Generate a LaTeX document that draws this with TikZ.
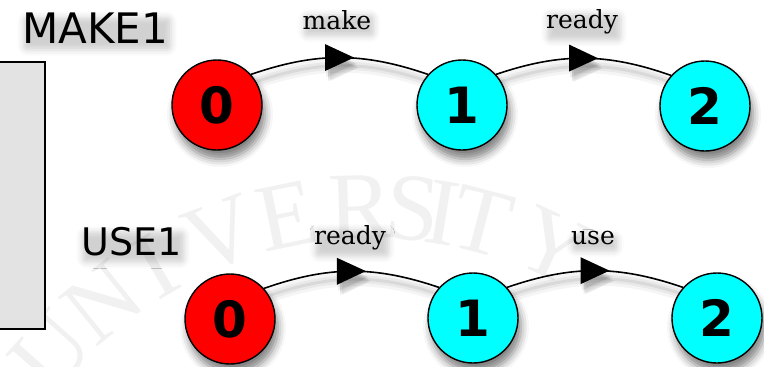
\documentclass[tikz,border=0pt]{standalone}
\usepackage{fontspec}
\setmainfont{Liberation Serif}
\newfontfamily\headfont{DejaVu Sans}
\newfontfamily\labelfont{DejaVu Serif}
\newfontfamily\markfont{Liberation Serif}
\usetikzlibrary{shadows.blur,decorations.markings}

\definecolor{statered}{RGB}{255,0,0}
\definecolor{statecyan}{RGB}{0,255,255}
\definecolor{panelgrey}{RGB}{227,227,227}
\definecolor{sealgrey}{RGB}{241,241,241}

\tikzset{
  slot/.style={circle, minimum size=91pt, inner sep=0pt},
  state/.style={circle, draw=black, line width=1.4pt, minimum size=90pt, inner sep=0pt,
    font=\headfont\bfseries\fontsize{50}{50}\selectfont,
    blur shadow={shadow xshift=3pt, shadow yshift=-9pt, shadow blur radius=8pt, shadow opacity=50}},
  startstate/.style={state, fill=statered},
  otherstate/.style={state, fill=statecyan},
  haze/.style={blur shadow={shadow xshift=2pt, shadow yshift=-6pt, shadow blur radius=6pt,
    shadow opacity=18}, rounded corners=4pt},
  title/.style={anchor=base west, inner sep=1pt, font=\headfont, haze},
  lbl/.style={anchor=base, inner sep=1pt, font=\labelfont\fontsize{25}{25}\selectfont, haze},
  sealletter/.style={anchor=center, inner sep=0pt, text=sealgrey,
    font=\markfont\fontsize{96}{96}\selectfont},
  shadowstroke/.style={draw=black, draw opacity=#1, transform canvas={xshift=3pt, yshift=-8pt}},
  trans/.style={line width=1.6pt, draw=black,
    preaction={shadowstroke=0.04, line width=14pt},
    preaction={shadowstroke=0.05, line width=8pt},
    preaction={shadowstroke=0.07, line width=3pt},
    postaction={decorate, decoration={markings, mark=at position 0.5 with {
      \foreach \sx/\sy in {1/-6,3/-8,5/-10,3/-6,3/-10}{
        \fill[black, opacity=0.06, xshift=\sx pt, yshift=\sy pt]
          (-14.5pt,-13.5pt) -- (14.5pt,0pt) -- (-14.5pt,13.5pt) -- cycle;}
      \fill[black] (-14.5pt,-13.5pt) -- (14.5pt,0pt) -- (-14.5pt,13.5pt) -- cycle;}}}},
}

\begin{document}
\begin{tikzpicture}[x=1pt, y=-1pt]
\useasboundingbox (0,0) rectangle (764,367);

% faint seal lettering in the background, set letter by letter on an arc
\foreach \ch/\ang [count=\i] in {U/221.6,N/231.1,I/239.6,V/249.3,E/258.4,
                                 R/268.3,S/275.3,I/279.3,T/284.7,Y/294.9}{
  \pgfmathsetmacro\tilt{270-\ang}
  \node[sealletter, rotate=\tilt] (seal\i) at ([shift={(\ang:430)}]373,637) {\ch};
}

% grey side panel
\draw[fill=panelgrey, line width=1.5pt] (-10,62) rectangle (45,329);

% process titles
\node[title] (make1) at (21,43) {\fontsize{42}{42}\selectfont MAKE1};
\node[title] (use1) at (80,255) {\fontsize{38}{38}\selectfont USE1};

% attachment slots for the states
\node[slot] (m0) at (217,105) {};
\node[slot] (m1) at (462,105) {};
\node[slot] (m2) at (705,106) {};
\node[slot] (u0) at (230,319) {};
\node[slot] (u1) at (473,318) {};
\node[slot] (u2) at (717,318) {};

% transitions
\draw[trans] (m0.42) to[bend left=19] (m1.138);
\draw[trans] (m1.42) to[bend left=19] (m2.138);
\draw[trans] (u0.42) to[bend left=19] (u1.138);
\draw[trans] (u1.42) to[bend left=19] (u2.138);

% states of MAKE1
\node[startstate] (m0disc) at (m0) {0};
\node[otherstate] (m1disc) at (m1) {1};
\node[otherstate] (m2disc) at (m2) {2};

% states of USE1
\node[startstate] (u0disc) at (u0) {0};
\node[otherstate] (u1disc) at (u1) {1};
\node[otherstate] (u2disc) at (u2) {2};

% transition labels
\node[lbl] (lmake) at (337,29) {make};
\node[lbl] (lreadya) at (582,28) {ready};
\node[lbl] (lreadyb) at (350,244) {ready};
\node[lbl] (luse) at (593,244) {use};
\end{tikzpicture}
\end{document}
